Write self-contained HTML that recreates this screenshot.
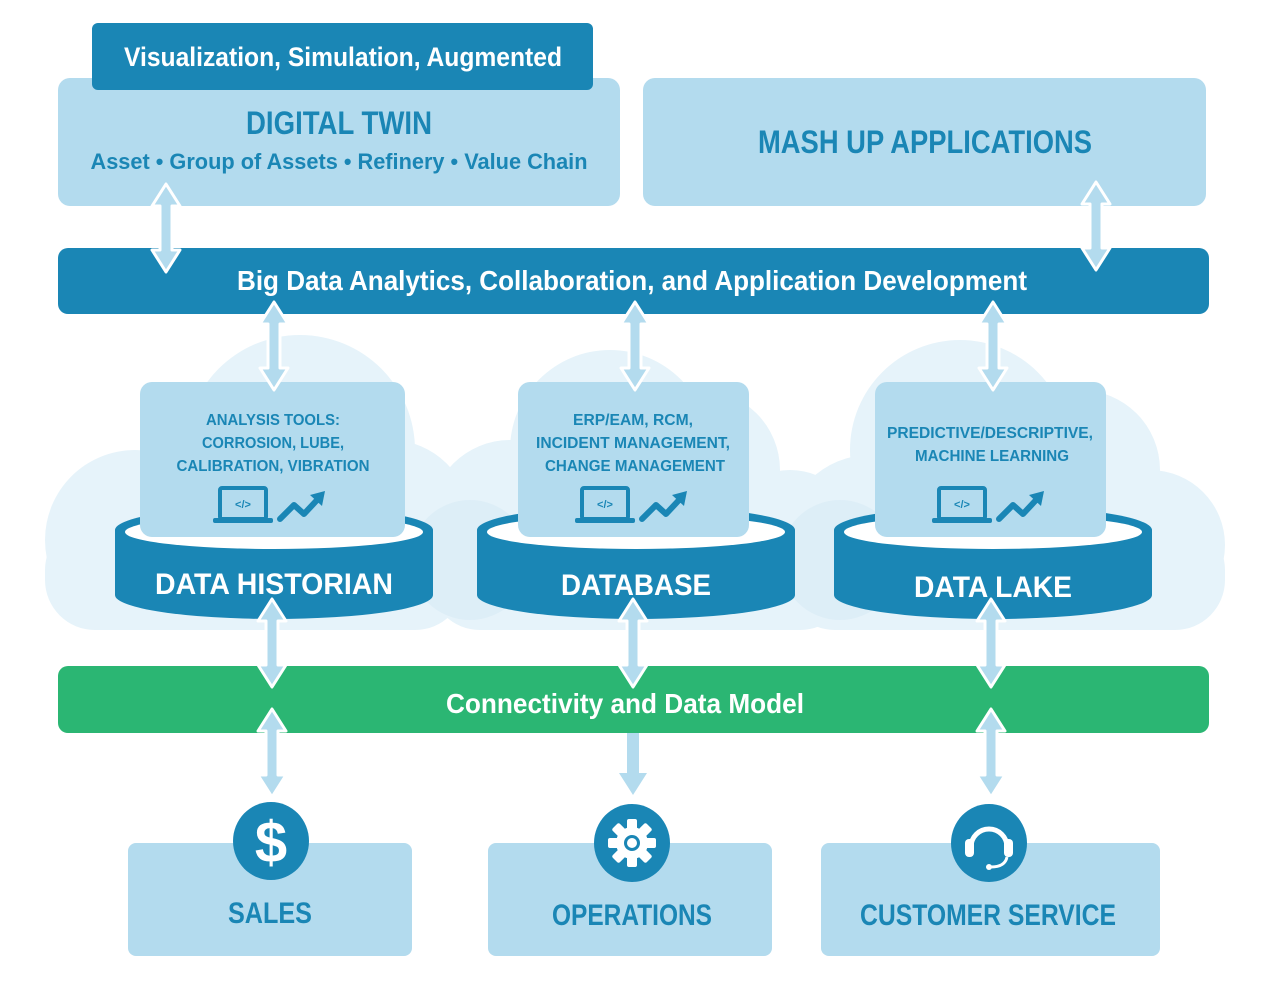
<!DOCTYPE html>
<html><head><meta charset="utf-8"><style>
html,body{margin:0;padding:0;background:#fff}
svg{display:block}
text{font-family:"Liberation Sans Narrow","Liberation Sans",sans-serif;font-weight:bold}
</style></head><body>
<svg width="1261" height="991" viewBox="0 0 1261 991" xmlns="http://www.w3.org/2000/svg">
<defs>
<g id="dar">
<polygon points="0,-44 14,-22 6,-22 6,22 14,22 0,44 -14,22 -6,22 -6,-22 -14,-22" fill="#b3dbee" stroke="#fff" stroke-width="3" stroke-linejoin="round"/>
</g>
<g id="icons">
<rect x="-60" y="-17" width="46" height="31" rx="2" fill="none" stroke="#1a86b5" stroke-width="4"/>
<rect x="-67" y="13" width="60" height="5" rx="2" fill="#1a86b5"/>
<text x="-37" y="3" font-size="11" fill="#1a86b5" text-anchor="middle">&lt;/&gt;</text>
<polyline points="0,14 14,0 24,9 38,-6" fill="none" stroke="#1a86b5" stroke-width="6" stroke-linejoin="round" stroke-linecap="round"/>
<polygon points="30,-10 45,-14 42,1" fill="#1a86b5"/>
</g>
</defs>
<!-- clouds -->
<g fill="#e6f3fa">
<circle cx="135" cy="540" r="90"/><circle cx="300" cy="450" r="115"/><circle cx="390" cy="520" r="80"/><rect x="45" y="520" width="420" height="110" rx="50"/>
<circle cx="510" cy="520" r="80"/><circle cx="610" cy="450" r="100"/><circle cx="700" cy="470" r="80"/><circle cx="790" cy="540" r="70"/><rect x="430" y="520" width="420" height="110" rx="50"/>
<circle cx="870" cy="540" r="85"/><circle cx="960" cy="450" r="110"/><circle cx="1080" cy="470" r="80"/><circle cx="1150" cy="545" r="75"/><rect x="785" y="520" width="440" height="110" rx="50"/>
</g>
<g fill="#d7ebf5" opacity="0.6">
<circle cx="470" cy="560" r="60"/><circle cx="840" cy="560" r="60"/>
</g>
<!-- top boxes -->
<rect x="58" y="78" width="562" height="128" rx="12" fill="#b3dbee"/>
<rect x="92" y="23" width="501" height="67" rx="6" fill="#1a86b5"/>
<text x="343" y="66" font-size="27" fill="#fff" text-anchor="middle" textLength="438" lengthAdjust="spacingAndGlyphs">Visualization, Simulation, Augmented</text>
<text x="339" y="134" font-size="32" fill="#1a86b5" text-anchor="middle" textLength="186" lengthAdjust="spacingAndGlyphs">DIGITAL TWIN</text>
<text x="339" y="169" font-size="22" fill="#1a86b5" text-anchor="middle" textLength="497" lengthAdjust="spacingAndGlyphs">Asset • Group of Assets • Refinery • Value Chain</text>
<rect x="643" y="78" width="563" height="128" rx="12" fill="#b3dbee"/>
<text x="925" y="153" font-size="32" fill="#1a86b5" text-anchor="middle" textLength="334" lengthAdjust="spacingAndGlyphs">MASH UP APPLICATIONS</text>
<!-- big data bar -->
<rect x="58" y="248" width="1151" height="66" rx="10" fill="#1a86b5"/>
<text x="632" y="290" font-size="28" fill="#fff" text-anchor="middle" textLength="790" lengthAdjust="spacingAndGlyphs">Big Data Analytics, Collaboration, and Application Development</text>
<!-- cylinders -->
<g>
<path d="M115,530 L115,595 A159,24 0 0 0 433,595 L433,530 Z" fill="#1a86b5"/>
<ellipse cx="274" cy="530" rx="159" ry="24" fill="#1a86b5"/>
<ellipse cx="274" cy="532" rx="149" ry="17" fill="#fff"/>
<path d="M477,530 L477,595 A159,24 0 0 0 795,595 L795,530 Z" fill="#1a86b5"/>
<ellipse cx="636" cy="530" rx="159" ry="24" fill="#1a86b5"/>
<ellipse cx="636" cy="532" rx="149" ry="17" fill="#fff"/>
<path d="M834,530 L834,595 A159,24 0 0 0 1152,595 L1152,530 Z" fill="#1a86b5"/>
<ellipse cx="993" cy="530" rx="159" ry="24" fill="#1a86b5"/>
<ellipse cx="993" cy="532" rx="149" ry="17" fill="#fff"/>
</g>
<text x="274" y="594" font-size="30" fill="#fff" text-anchor="middle" textLength="238" lengthAdjust="spacingAndGlyphs">DATA HISTORIAN</text>
<text x="636" y="595" font-size="30" fill="#fff" text-anchor="middle" textLength="150" lengthAdjust="spacingAndGlyphs">DATABASE</text>
<text x="993" y="597" font-size="30" fill="#fff" text-anchor="middle" textLength="158" lengthAdjust="spacingAndGlyphs">DATA LAKE</text>
<!-- cards -->
<rect x="140" y="382" width="265" height="155" rx="12" fill="#b3dbee"/>
<rect x="518" y="382" width="231" height="155" rx="12" fill="#b3dbee"/>
<rect x="875" y="382" width="231" height="155" rx="12" fill="#b3dbee"/>
<g font-size="16" fill="#1a86b5" text-anchor="middle">
<text x="273" y="425" textLength="134" lengthAdjust="spacingAndGlyphs">ANALYSIS TOOLS:</text>
<text x="273" y="448" textLength="142" lengthAdjust="spacingAndGlyphs">CORROSION, LUBE,</text>
<text x="273" y="471" textLength="193" lengthAdjust="spacingAndGlyphs">CALIBRATION, VIBRATION</text>
<text x="633" y="425" textLength="120" lengthAdjust="spacingAndGlyphs">ERP/EAM, RCM,</text>
<text x="633" y="448" textLength="194" lengthAdjust="spacingAndGlyphs">INCIDENT MANAGEMENT,</text>
<text x="635" y="471" textLength="180" lengthAdjust="spacingAndGlyphs">CHANGE MANAGEMENT</text>
<text x="990" y="438" textLength="206" lengthAdjust="spacingAndGlyphs">PREDICTIVE/DESCRIPTIVE,</text>
<text x="992" y="461" textLength="154" lengthAdjust="spacingAndGlyphs">MACHINE LEARNING</text>
</g>
<use href="#icons" x="280" y="505"/>
<use href="#icons" x="642" y="505"/>
<use href="#icons" x="999" y="505"/>
<!-- green bar -->
<rect x="58" y="666" width="1151" height="67" rx="10" fill="#2bb673"/>
<text x="625" y="713" font-size="28" fill="#fff" text-anchor="middle" textLength="358" lengthAdjust="spacingAndGlyphs">Connectivity and Data Model</text>
<!-- arrows -->
<use href="#dar" x="166" y="228"/>
<use href="#dar" x="1096" y="226"/>
<use href="#dar" x="274" y="346"/>
<use href="#dar" x="635" y="346"/>
<use href="#dar" x="993" y="346"/>
<use href="#dar" x="272" y="643"/>
<use href="#dar" x="633" y="643"/>
<use href="#dar" x="991" y="643"/>
<use href="#dar" x="272" y="753"/>
<polygon points="627,733 639,733 639,773 647,773 633,795 619,773 627,773" fill="#b3dbee"/>
<use href="#dar" x="991" y="753"/>
<!-- bottom boxes -->
<rect x="128" y="843" width="284" height="113" rx="8" fill="#b3dbee"/>
<rect x="488" y="843" width="284" height="113" rx="8" fill="#b3dbee"/>
<rect x="821" y="843" width="339" height="113" rx="8" fill="#b3dbee"/>
<ellipse cx="271" cy="841" rx="38" ry="39" fill="#1a86b5"/>
<ellipse cx="632" cy="843" rx="38" ry="39" fill="#1a86b5"/>
<ellipse cx="989" cy="843" rx="38" ry="39" fill="#1a86b5"/>
<text x="271" y="862" font-size="58" fill="#fff" text-anchor="middle">$</text>
<g transform="translate(632,843)" fill="#fff">
<circle r="16"/>
<g><rect x="-5" y="-24" width="10" height="48" rx="2"/><rect x="-5" y="-24" width="10" height="48" rx="2" transform="rotate(45)"/><rect x="-5" y="-24" width="10" height="48" rx="2" transform="rotate(90)"/><rect x="-5" y="-24" width="10" height="48" rx="2" transform="rotate(135)"/></g>
<circle r="8" fill="#1a86b5"/><circle r="5" fill="#fff"/>
</g>
<g transform="translate(989,843)" fill="none" stroke="#fff">
<path d="M-18,4 A18,18 0 0 1 18,4" stroke-width="5"/>
<rect x="-24" y="-4" width="9" height="18" rx="4" fill="#fff" stroke="none"/>
<rect x="15" y="-4" width="9" height="18" rx="4" fill="#fff" stroke="none"/>
<path d="M18,14 Q16,24 2,24" stroke-width="3"/>
<circle cx="0" cy="24" r="3" fill="#fff" stroke="none"/>
</g>
<g font-size="30" fill="#1a86b5" text-anchor="middle">
<text x="270" y="923" textLength="84" lengthAdjust="spacingAndGlyphs">SALES</text>
<text x="632" y="925" textLength="160" lengthAdjust="spacingAndGlyphs">OPERATIONS</text>
<text x="988" y="925" textLength="256" lengthAdjust="spacingAndGlyphs">CUSTOMER SERVICE</text>
</g>
</svg>
</body></html>
